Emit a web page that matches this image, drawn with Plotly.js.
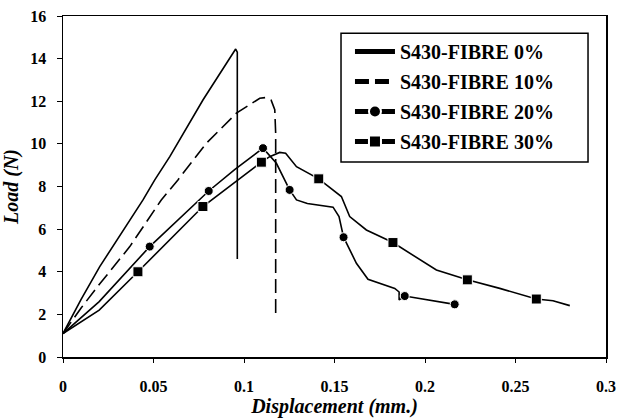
<!DOCTYPE html>
<html><head><meta charset="utf-8">
<script src="https://cdn.plot.ly/plotly-3.0.1.min.js"></script>
<style>html,body{margin:0;padding:0;background:#fff}#c{width:617px;height:419px}</style>
</head><body><div id="c"></div>
<script>
const names = ["S430-FIBRE 0%", "S430-FIBRE 10%", "S430-FIBRE 20%", "S430-FIBRE 30%"];
const x0 = [0, 0.005, 0.01, 0.0203, 0.0277, 0.0442, 0.0507, 0.059, 0.0774, 0.09, 0.0954, 0.0963, 0.0963];
const y0 = [1.1, 1.9, 2.7, 4.24, 5.21, 7.37, 8.31, 9.4, 12.07, 13.7, 14.45, 14.3, 4.6];
const x10 = [0, 0.01, 0.02, 0.0369, 0.0543, 0.0635, 0.0792, 0.0958, 0.1087, 0.1117, 0.115, 0.117, 0.1175, 0.1175];
const y10 = [1.1, 2.3, 3.4, 5.18, 7.37, 8.31, 10.03, 11.44, 12.14, 12.17, 12.05, 11.6, 10.5, 1.97];
const x20 = [0, 0.02, 0.0479, 0.0805, 0.095, 0.1105, 0.1179, 0.1252, 0.129, 0.135, 0.1492, 0.1525, 0.155, 0.1621, 0.1685, 0.1833, 0.1857, 0.1857, 0.1888, 0.2164];
const y20 = [1.1, 2.6, 5.18, 7.79, 8.8, 9.8, 9.09, 7.84, 7.37, 7.2, 7.03, 6.59, 5.62, 4.4, 3.65, 3.22, 3.05, 2.68, 2.86, 2.47];
const m20 = [0, 0, 1, 1, 0, 1, 0, 1, 0, 0, 0, 0, 1, 0, 0, 0, 0, 0, 1, 1];
const x30 = [0, 0.02, 0.0414, 0.0773, 0.1096, 0.1142, 0.1197, 0.123, 0.129, 0.1413, 0.1538, 0.1584, 0.1676, 0.1823, 0.2063, 0.2234, 0.2413, 0.2615, 0.2707, 0.28];
const y30 = [1.1, 2.2, 4.0, 7.06, 9.14, 9.4, 9.6, 9.56, 8.93, 8.36, 7.53, 6.59, 5.96, 5.37, 4.08, 3.62, 3.22, 2.72, 2.64, 2.41];
const m30 = [0, 0, 1, 1, 1, 0, 0, 0, 0, 1, 0, 0, 0, 1, 0, 1, 0, 1, 0, 0];
const xTicks = [0, 0.05, 0.1, 0.15, 0.2, 0.25, 0.3];
const xTickText = ["0", "0.05", "0.1", "0.15", "0.2", "0.25", "0.3"];
const yTicks = [0, 2, 4, 6, 8, 10, 12, 14, 16];

const serif = "Liberation Serif, Times New Roman, serif";
const lineStyle = {color: "#000", width: 1.6};
const traces = [
  {x: x0, y: y0, name: names[0], mode: "lines", line: lineStyle, legendgroup: "a"},
  {x: x10, y: y10, name: names[1], mode: "lines", line: {color: "#000", width: 1.6, dash: "14px,6px"}, legendgroup: "b"},
  {x: x20, y: y20, name: names[2], mode: "lines+markers", line: lineStyle, legendgroup: "c",
   marker: {symbol: "circle", color: "#000", opacity: 1, size: m20.map(v => v ? 9 : 0)}},
  {x: x30, y: y30, name: names[3], mode: "lines+markers", line: lineStyle, legendgroup: "d",
   marker: {symbol: "square", color: "#000", opacity: 1, size: m30.map(v => v ? 10 : 0)}}
];
const axisCommon = {showgrid: false, zeroline: false, showline: true, linecolor: "#000", linewidth: 1.5,
  mirror: true, ticks: "outside", tickcolor: "#000", tickwidth: 1,
  tickfont: {family: serif, size: 16, color: "#000", weight: "bold"}};
const layout = {
  width: 617, height: 419,
  margin: {l: 63, r: 11, t: 16, b: 62},
  paper_bgcolor: "#fff", plot_bgcolor: "#fff",
  showlegend: true,
  shapes: [{type: "rect", xref: "paper", yref: "paper", x0: 0.512, x1: 0.9669, y0: 0.5718, y1: 0.9493,
    line: {color: "#000", width: 1.5}, fillcolor: "#fff", layer: "above"}],
  legend: {x: 0.5285, y: 0.953, xanchor: "left", yanchor: "top", bgcolor: "rgba(0,0,0,0)",
    borderwidth: 0, traceorder: "grouped", tracegroupgap: 1, itemwidth: 40,
    itemsizing: "constant",
    font: {family: serif, size: 20, color: "#000", weight: "bold"}},
  xaxis: Object.assign({}, axisCommon, {range: [0, 0.3], tickvals: xTicks, ticktext: xTickText, ticklen: 4,
    ticklabelstandoff: 10,
    title: {text: "<b><i>Displacement (mm.)</i></b>", font: {family: serif, size: 20, color: "#000"}, standoff: 5}}),
  yaxis: Object.assign({}, axisCommon, {range: [0, 16], tickvals: yTicks, ticklen: 5,
    ticklabelstandoff: 7,
    title: {text: "<b><i>Load (N)</i></b>", font: {family: serif, size: 20, color: "#000"}, standoff: 8}})
};
Plotly.newPlot("c", traces, layout, {displayModeBar: false, staticPlot: true});
</script>
</body></html>
